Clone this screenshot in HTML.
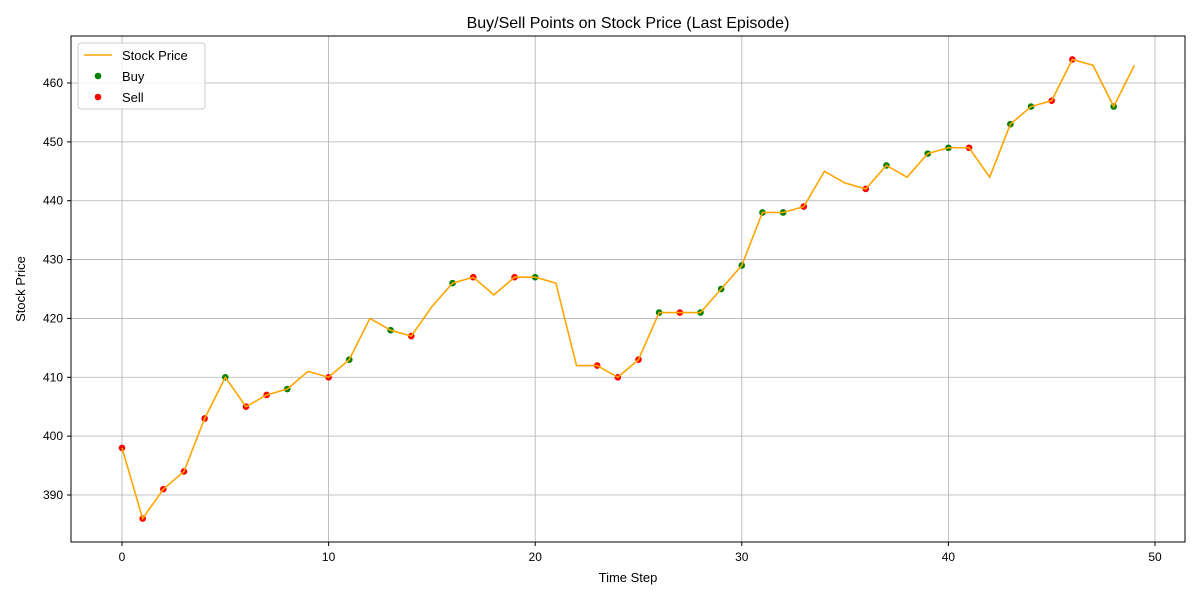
<!DOCTYPE html>
<html><head><meta charset="utf-8"><style>
body{margin:0;background:#fff;}
svg text{font-family:"Liberation Sans","DejaVu Sans",sans-serif;}
</style></head><body>
<svg id="chart" width="1200" height="600" xmlns="http://www.w3.org/2000/svg">
<rect width="1200" height="600" fill="#fff"/>
<text x="628" y="28" text-anchor="middle" font-size="16">Buy/Sell Points on Stock Price (Last Episode)</text>
<g id="grid"></g>
<g id="plot"></g>
<rect x="71" y="36" width="1114" height="506" fill="none" stroke="#000" stroke-width="1"/>
<g id="axes"></g>
<text x="628" y="582" text-anchor="middle" font-size="13">Time Step</text>
<text transform="translate(25,289) rotate(-90)" text-anchor="middle" font-size="13">Stock Price</text>
<g>
<rect x="78" y="43" width="127" height="66" rx="3" fill="#fff" fill-opacity="0.8" stroke="#ccc"/>
<g><line x1="84" y1="55" x2="112" y2="55" stroke="orange" stroke-width="1.5"/><text x="122" y="60" font-size="13">Stock Price</text></g>
<g><circle cx="98" cy="76" r="3.3" fill="green"/><text x="122" y="81" font-size="13">Buy</text></g>
<g><circle cx="98" cy="97" r="3.3" fill="red"/><text x="122" y="102" font-size="13">Sell</text></g>
</g>
</svg>
<script>
const prices=[398,386,391,394,403,410,405,407,408,411,410,413,420,418,417,422,426,427,424,427,427,426,412,412,410,413,421,421,421,425,429,438,438,439,445,443,442,446,444,448,449,449,444,453,456,457,464,463,456,463];
const buySteps=[5,8,11,13,16,20,26,28,29,30,31,32,37,39,40,43,44,48];
const sellSteps=[0,1,2,3,4,6,7,10,14,17,19,23,24,25,27,33,36,41,45,46];
const xTicks=[0,10,20,30,40,50];
const yTicks=[390,400,410,420,430,440,450,460];
const NS="http://www.w3.org/2000/svg";
function xs(v){return 122+v*(1155-122)/50;}
function ys(v){return 495-(v-390)*(495-83)/70;}
function mk(tag,attrs,parent){const e=document.createElementNS(NS,tag);for(const k in attrs)e.setAttribute(k,attrs[k]);parent.appendChild(e);return e;}
const grid=document.getElementById('grid'),plot=document.getElementById('plot'),axes=document.getElementById('axes');
xTicks.forEach(t=>{const x=xs(t);
const g=mk('line',{x1:x,x2:x,y1:36,y2:542,stroke:'#b0b0b0','stroke-width':0.8},grid);


mk('line',{x1:x,x2:x,y1:542,y2:546,stroke:'#000'},axes);
const tx=mk('text',{x:x,y:561,'text-anchor':'middle','font-size':12},axes);tx.textContent=t;

});
yTicks.forEach(t=>{const y=ys(t);
const g=mk('line',{x1:71,x2:1185,y1:y,y2:y,stroke:'#b0b0b0','stroke-width':0.8},grid);


mk('line',{x1:67,x2:71,y1:y,y2:y,stroke:'#000'},axes);
const tx=mk('text',{x:63,y:y+4,'text-anchor':'end','font-size':12},axes);tx.textContent=t;

});
buySteps.forEach(i=>{const c=mk('circle',{cx:xs(i),cy:ys(prices[i]),r:3.3,fill:'green'},plot);

});
sellSteps.forEach(i=>{const c=mk('circle',{cx:xs(i),cy:ys(prices[i]),r:3.3,fill:'red'},plot);

});
const line=mk('polyline',{points:prices.map((p,i)=>xs(i)+','+ys(p)).join(' '),fill:'none',stroke:'orange','stroke-width':1.6},plot);


</script>
</body></html>
